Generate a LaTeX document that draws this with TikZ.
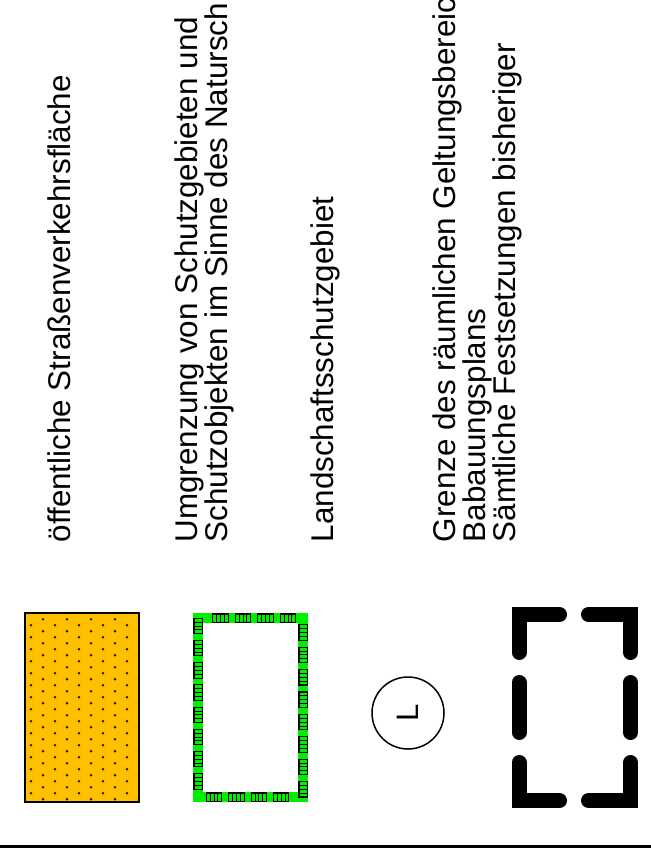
\documentclass[tikz,border=0pt]{standalone}
\usepackage{fontspec}
\setmainfont{Liberation Sans}
\definecolor{orangefill}{RGB}{255,192,0}
\definecolor{bandgreen}{RGB}{0,238,0}
\begin{document}
\begin{tikzpicture}[x=1pt,y=-1pt,
  lbl/.style={rotate=90,anchor=base west,inner sep=0pt,font=\fontsize{31.4}{30}\selectfont},
  gboxst/.style={draw=black,line width=1.1pt,fill=bandgreen},
  gline/.style={draw=black,line width=0.9pt},
  bracket/.style={line width=15pt,line cap=round,line join=miter}]
\clip (0,0) rectangle (651,855);
\fill[white] (0,0) rectangle (651,855);

% bottom rule
\coordinate (rl) at (0,846.5);
\coordinate (rr) at (651,846.5);
\draw[line width=3pt] (rl) -- (rr);

% 1: orange dotted area
\begin{scope}
  \clip (25,613) rectangle (139,802);
  \fill[orangefill] (25,613) rectangle (139,802);
  \foreach \i in {0,...,9} {
    \pgfmathsetmacro{\xx}{31+12*\i}
    \pgfmathsetmacro{\ys}{isodd(\i) ? 619.3 : 625.3}
    \foreach \j in {0,...,15} {
      \fill[black!85!orange] (\xx,\ys+12*\j) circle (1.4pt);
    }
  }
\end{scope}
\draw[line width=1.5pt] (25,613) rectangle (139,802);
\node[lbl] (t1) at (70,542.5) {öffentliche Straßenverkehrsfläche};

% 2: green boundary with hatched boxes
\draw[bandgreen,line width=10pt,line join=miter] (198,618) rectangle (303,797);
\foreach \c in {220.5,243,265.5,288} {
  \draw[gboxst] (\c-7.7,614) rectangle (\c+7.7,622.5);
  \foreach \d in {-3.85,0,3.85} \draw[gline] (\c+\d,614) -- (\c+\d,622.5);
}
\foreach \c in {214,236.4,258.8,281.2} {
  \draw[gboxst] (\c-7.7,793) rectangle (\c+7.7,801.5);
  \foreach \d in {-3.85,0,3.85} \draw[gline] (\c+\d,793) -- (\c+\d,801.5);
}
\foreach \c in {626,648.2,670.4,692.6,714.8,737,759.2,781.4} {
  \draw[gboxst] (194,\c-7.7) rectangle (202.5,\c+7.7);
  \foreach \d in {-3.85,0,3.85} \draw[gline] (194,\c+\d) -- (202.5,\c+\d);
}
\foreach \c in {632.5,654.9,677.3,699.7,722.1,744.5,766.9,789.3} {
  \draw[gboxst] (299,\c-7.7) rectangle (307.5,\c+7.7);
  \foreach \d in {-3.85,0,3.85} \draw[gline] (299,\c+\d) -- (307.5,\c+\d);
}
\node[lbl] (t2a) at (197,542.5) {Umgrenzung von Schutzgebieten und};
\node[lbl] (t2b) at (227,542.5) {Schutzobjekten im Sinne des Natursch};

% 3: circle with L
\node[circle,draw,line width=1.5pt,minimum size=72pt,inner sep=0pt,rotate=90,
      font=\fontsize{31}{31}\selectfont] (lsg) at (408,713) {L};
\node[lbl] (t3) at (333,542.5) {Landschaftsschutzgebiet};

% 4: dashed bracket boundary
\draw[bracket] (519,652.5) -- (519,614.5) -- (559.5,614.5);
\draw[bracket] (588.5,614.5) -- (630.5,614.5) -- (630.5,652.5);
\draw[bracket] (519,682.5) -- (519,732.5);
\draw[bracket] (630.5,682.5) -- (630.5,732.5);
\draw[bracket] (519,762.5) -- (519,800.5) -- (559.5,800.5);
\draw[bracket] (588.5,800.5) -- (630.5,800.5) -- (630.5,762.5);
\node[lbl] (t4a) at (455,542.5) {Grenze des räumlichen Geltungsbereic};
\node[lbl] (t4b) at (485,542.5) {Babauungsplans};
\node[lbl] (t4c) at (515,542.5) {Sämtliche Festsetzungen bisheriger};
\end{tikzpicture}
\end{document}
